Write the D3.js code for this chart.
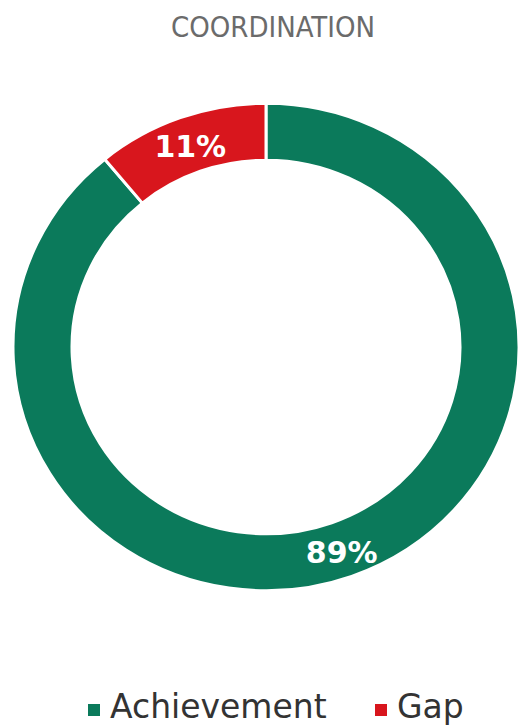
<!DOCTYPE html>
<html>
<head>
<meta charset="utf-8">
<script src="https://cdn.jsdelivr.net/npm/d3@7"></script>
<style>
  body { margin: 0; background: #fff; }
  svg { display: block; }
</style>
</head>
<body>
<svg id="chart" width="519" height="727"></svg>
<script>
// data
var categories = ["Achievement", "Gap"];
var values = [89, 11];
var colors = ["#0b7a5b", "#d8161d"];
var title = "COORDINATION";

var width = 519, height = 727;
var cx = 266, cy = 347;
var outerR = 253, innerR = 194;
var squash = 0.963;

var svg = d3.select("#chart");

// title
svg.append("text")
    .attr("x", 273)
    .attr("y", 37)
    .attr("text-anchor", "middle")
    .style("font-family", "'DejaVu Sans Condensed', 'DejaVu Sans', sans-serif")
    .style("font-size", "29px")
    .style("fill", "#6b6b6b")
    .text(title);

// pie: gap sits counter-clockwise of 12 o'clock
var pie = d3.pie()
    .sort(null)
    .value(function(d) { return d.value; });

var data = categories.map(function(c, i) { return {name: c, value: values[i], color: colors[i]}; });
var arcs = pie(data);

var arc = d3.arc().innerRadius(innerR).outerRadius(outerR);

var g = svg.append("g")
    .attr("transform", "translate(" + cx + "," + cy + ") scale(1," + squash + ")");

g.selectAll("path.slice")
    .data(arcs)
  .enter().append("path")
    .attr("class", "slice")
    .attr("d", arc)
    .style("fill", function(d) { return d.data.color; })
    .style("stroke", "#fff")
    .style("stroke-width", 3);

// labels (outside the scaled group so text isn't squashed)
svg.selectAll("text.lbl")
    .data(arcs)
  .enter().append("text")
    .attr("class", "lbl")
    .attr("x", function(d) { return cx + arc.centroid(d)[0]; })
    .attr("y", function(d) { return cy + arc.centroid(d)[1] * squash + 13; })
    .attr("text-anchor", "middle")
    .style("font-family", "'DejaVu Sans', sans-serif")
    .style("font-weight", "bold")
    .style("font-size", "30px")
    .style("fill", "#fff")
    .text(function(d) { return d.data.value + "%"; });

// legend
var legendX = [88, 375];
var legend = svg.selectAll("g.legend")
    .data(data)
  .enter().append("g")
    .attr("class", "legend")
    .attr("transform", function(d, i) { return "translate(" + legendX[i] + ",709)"; });

legend.append("rect")
    .attr("x", 0)
    .attr("y", -5)
    .attr("width", 12)
    .attr("height", 12)
    .style("fill", function(d) { return d.color; });

legend.append("text")
    .attr("x", 22)
    .attr("y", 9)
    .style("font-family", "'DejaVu Sans', sans-serif")
    .style("font-size", "33px")
    .style("fill", "#333")
    .text(function(d) { return d.name; });
</script>
</body>
</html>
